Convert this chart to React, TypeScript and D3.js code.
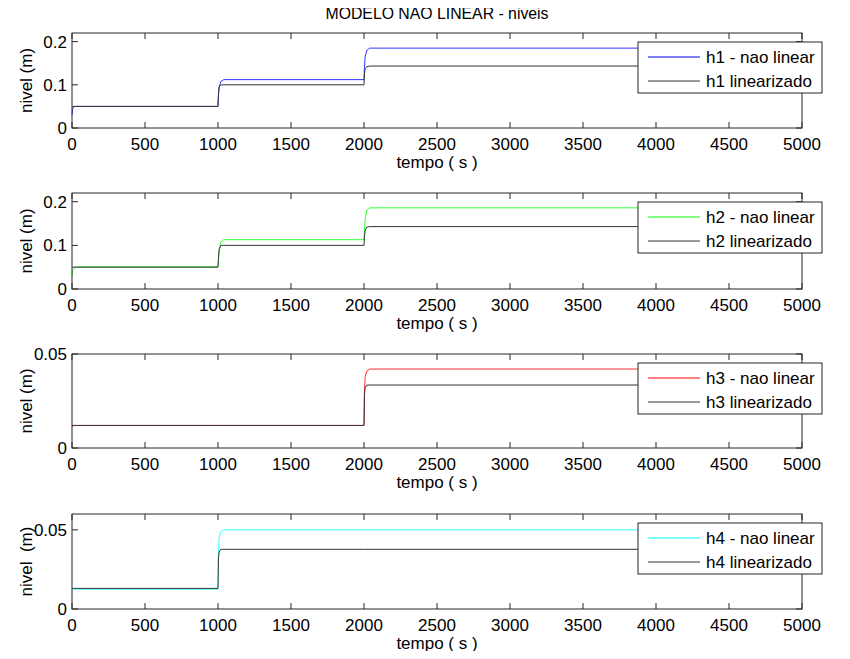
import React, { useEffect, useRef } from 'react';
import * as d3 from 'd3';

// sample times (s) shared by all curves
const tempo = [0, 3, 8, 20, 40, 1000, 1003, 1008, 1020, 1040, 2000, 2003, 2008, 2020, 2040, 5000];

const h1NaoLinear = [0.03, 0.042, 0.048, 0.05, 0.05, 0.05, 0.075, 0.095, 0.108, 0.112, 0.112, 0.14, 0.165, 0.18, 0.185, 0.185];
const h1Linearizado = [0.05, 0.05, 0.05, 0.05, 0.05, 0.05, 0.08, 0.095, 0.1, 0.1, 0.1, 0.125, 0.138, 0.142, 0.1435, 0.1435];
const h2NaoLinear = [0.03, 0.038, 0.045, 0.05, 0.051, 0.051, 0.065, 0.09, 0.108, 0.113, 0.113, 0.135, 0.16, 0.181, 0.186, 0.186];
const h2Linearizado = [0.05, 0.05, 0.05, 0.05, 0.05, 0.05, 0.07, 0.09, 0.1, 0.1, 0.1, 0.12, 0.135, 0.142, 0.143, 0.143];
const h3NaoLinear = [0.011, 0.012, 0.012, 0.012, 0.012, 0.012, 0.012, 0.012, 0.012, 0.012, 0.012, 0.03, 0.038, 0.041, 0.042, 0.042];
const h3Linearizado = [0.012, 0.012, 0.012, 0.012, 0.012, 0.012, 0.012, 0.012, 0.012, 0.012, 0.012, 0.028, 0.032, 0.0335, 0.0335, 0.0335];
const h4NaoLinear = [0.0125, 0.0125, 0.0125, 0.0125, 0.0125, 0.0125, 0.035, 0.045, 0.049, 0.05, 0.05, 0.05, 0.05, 0.05, 0.05, 0.05];
const h4Linearizado = [0.013, 0.013, 0.013, 0.013, 0.013, 0.013, 0.032, 0.036, 0.0377, 0.0377, 0.0377, 0.0377, 0.0377, 0.0377, 0.0377, 0.0377];

const xTicks = [0, 500, 1000, 1500, 2000, 2500, 3000, 3500, 4000, 4500, 5000];

const paineis = [
  { nome: 'h1', cor: '#0000ff', naoLinear: h1NaoLinear, linear: h1Linearizado, yMax: 0.22, yTicks: [0, 0.1, 0.2], ylabel: 'nivel (m)' },
  { nome: 'h2', cor: '#00ff00', naoLinear: h2NaoLinear, linear: h2Linearizado, yMax: 0.22, yTicks: [0, 0.1, 0.2], ylabel: 'nivel (m)' },
  { nome: 'h3', cor: '#ff0000', naoLinear: h3NaoLinear, linear: h3Linearizado, yMax: 0.05, yTicks: [0, 0.05], ylabel: 'nivel (m)' },
  { nome: 'h4', cor: '#00ffff', naoLinear: h4NaoLinear, linear: h4Linearizado, yMax: 0.06, yTicks: [0, 0.05], ylabel: 'nivel  (m)' },
];

const App = () => {
  const ref = useRef<SVGSVGElement>(null);

  useEffect(() => {
    const svg = d3.select(ref.current);
    svg.selectAll('*').remove();

    const left = 72;
    const right = 802;
    const tops = [33, 193, 354, 514];
    const alturas = [95, 96, 94, 95];
    const font = '"Liberation Sans", Arial, sans-serif';
    const fs = 17;

    svg.append('rect').attr('width', 850).attr('height', 659).attr('fill', 'white');

    svg.append('text')
      .attr('x', 437).attr('y', 19)
      .attr('text-anchor', 'middle')
      .attr('font-family', font).attr('font-size', 15.8)
      .text('MODELO NAO LINEAR - niveis');

    const x = d3.scaleLinear().domain([0, 5000]).range([left, right]);

    paineis.forEach((p, i) => {
      const top = tops[i];
      const bottom = top + alturas[i];
      const y = d3.scaleLinear().domain([0, p.yMax]).range([bottom, top]);
      const g = svg.append('g');

      // ticks (inward, all four sides)
      xTicks.forEach(t => {
        g.append('line').attr('x1', x(t)).attr('x2', x(t)).attr('y1', bottom).attr('y2', bottom - 6).attr('stroke', '#262626');
        g.append('line').attr('x1', x(t)).attr('x2', x(t)).attr('y1', top).attr('y2', top + 6).attr('stroke', '#262626');
        g.append('text')
          .attr('x', x(t)).attr('y', bottom + 22)
          .attr('text-anchor', 'middle')
          .attr('font-family', font).attr('font-size', fs)
          .text(t);
      });
      p.yTicks.forEach(t => {
        g.append('line').attr('x1', left).attr('x2', left + 6).attr('y1', y(t)).attr('y2', y(t)).attr('stroke', '#262626');
        g.append('line').attr('x1', right).attr('x2', right - 6).attr('y1', y(t)).attr('y2', y(t)).attr('stroke', '#262626');
        g.append('text')
          .attr('x', left - 5).attr('y', y(t) + 6)
          .attr('text-anchor', 'end')
          .attr('font-family', font).attr('font-size', fs)
          .text(t === 0 ? '0' : String(t));
      });

      const linha = (vals: number[]) =>
        d3.line<number>().x((_, k) => x(tempo[k])).y(d => y(d))(vals);

      g.append('path').attr('d', linha(p.naoLinear)).attr('fill', 'none').attr('stroke', p.cor).attr('stroke-width', 1).attr('opacity', 0.8);
      g.append('path').attr('d', linha(p.linear)).attr('fill', 'none').attr('stroke', '#333').attr('stroke-width', 1);

      g.append('rect')
        .attr('x', left).attr('y', top)
        .attr('width', right - left).attr('height', bottom - top)
        .attr('fill', 'none').attr('stroke', '#262626');

      // axis labels
      g.append('text')
        .attr('x', (left + right) / 2).attr('y', bottom + 40)
        .attr('text-anchor', 'middle')
        .attr('font-family', font).attr('font-size', fs)
        .text('tempo ( s )');
      g.append('text')
        .attr('transform', `translate(32,${(top + bottom) / 2}) rotate(-90)`)
        .attr('text-anchor', 'middle')
        .attr('font-family', font).attr('font-size', fs)
        .style('white-space', 'pre')
        .text(p.ylabel);

      // legend
      const lg = g.append('g').attr('transform', `translate(638,${top + 9})`);
      lg.append('rect').attr('width', 184).attr('height', 51).attr('fill', 'white').attr('stroke', '#262626');
      [[p.cor, `${p.nome} - nao linear`], ['#333', `${p.nome} linearizado`]].forEach(([c, txt], k) => {
        const yy = 15 + k * 24;
        lg.append('line').attr('x1', 10).attr('x2', 62).attr('y1', yy).attr('y2', yy).attr('stroke', c);
        lg.append('text')
          .attr('x', 68).attr('y', yy + 6)
          .attr('font-family', font).attr('font-size', fs)
          .text(txt);
      });
    });
  }, []);

  return <svg ref={ref} width={850} height={659} style={{ display: 'block', margin: -8 }} />;
};

export default App;
